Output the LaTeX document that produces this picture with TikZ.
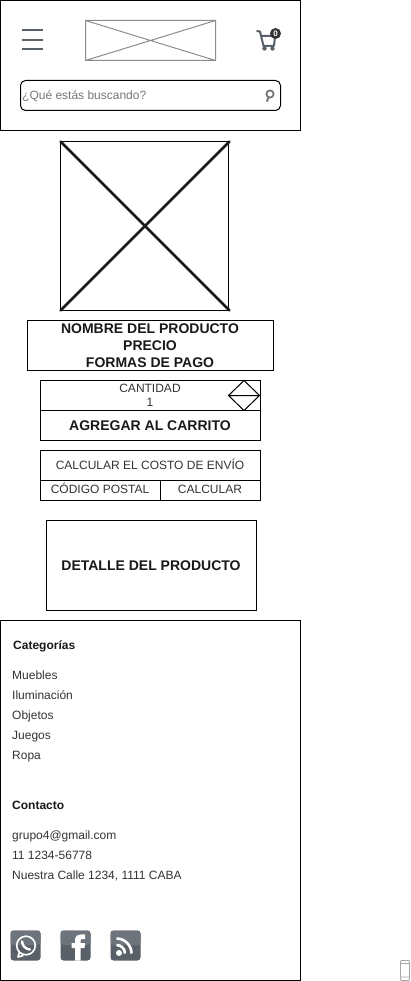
\documentclass[tikz,border=0pt]{standalone}
\usepackage{fontspec}
\setmainfont{Liberation Sans}
\definecolor{txt}{HTML}{333333}
\definecolor{icon}{HTML}{5A6068}
\definecolor{iconlt}{HTML}{6E747B}
\definecolor{hint}{HTML}{777777}
\begin{document}
\begin{tikzpicture}[x=1pt,y=-1pt,
  frame/.style={draw=black,line width=1pt,fill=white},
  lab/.style={font=\fontsize{12}{20}\selectfont,text=txt,inner sep=0pt,anchor=west,text height=9.6pt,text depth=1.6pt},
  labc/.style={font=\fontsize{12}{14}\selectfont,text=txt,inner sep=0pt,align=center},
  labl/.style={labc,text height=8.6pt,text depth=2.6pt},
  boldc/.style={font=\fontsize{14}{17}\selectfont\bfseries,text=black!90,inner sep=0pt,align=center},
  head/.style={font=\fontsize{12}{14}\selectfont\bfseries,text=black!90,inner sep=0pt,anchor=west,text height=9.6pt,text depth=1.6pt},
  social/.style={fill=icon,rounded corners=3pt}]
\useasboundingbox (0,0) rectangle (411,981);
% header
\draw[frame] (0.5,0.5) rectangle (300.5,130.5);
\draw[icon,line width=2pt] (22,30) -- (43,30) (22,40) -- (43,40) (22,49.5) -- (43,49.5);
\draw[draw=black!45,line width=1pt] (85.5,20.5) rectangle (215.5,60.5) (85.5,20.5) -- (215.5,60.5) (85.5,60.5) -- (215.5,20.5);
% cart
\draw[icon,line width=2pt,line join=round] (256.5,31) -- (260,31.5) -- (263.5,46) -- (274,46);
\draw[icon,line width=2pt,line join=round] (261,36) -- (275,36) -- (274,46);
\fill[icon] (264.5,48.5) circle (2.2) (272.5,48.5) circle (2.2);
\fill[black!80] (275.5,33.5) circle (5.5);
\node[font=\fontsize{8}{8}\selectfont\bfseries,text=white,inner sep=0pt] (cartn) at (275.5,33.5) {0};
% search
\draw[draw=black,line width=1pt,rounded corners=5pt] (20.5,80.5) rectangle (280.5,110.5);
\node[lab,text=hint] (search) at (22,95.5) {¿Qué estás buscando?};
\draw[hint,line width=1.8pt] (270,94) circle (3.6);
\draw[hint,line width=2pt] (268.3,97.8) -- (266.8,101.5);
% image
\draw[draw=black,line width=1pt] (60.5,141.5) rectangle (228.5,310.5);
\draw[draw=black!90,line width=2.6pt,line cap=round] (60.5,141.5) -- (229.5,310.5) (60.5,310.5) -- (229.5,141.5);
% title box
\node[frame,minimum width=246pt,minimum height=50pt,inner sep=0pt] (titlebox) at (150.5,345.5) {};
\node[boldc] (title) at (150,345.8) {NOMBRE DEL PRODUCTO\\PRECIO\\FORMAS DE PAGO};
% quantity
\node[frame,minimum width=220pt,minimum height=30pt,inner sep=0pt] (qty) at (150.5,395.5) {};
\node[labc] (qtyt) at (150,395.5) {CANTIDAD\\1};
\draw[draw=black,line width=1pt] (228.5,395.5) -- (244,380.5) -- (259.5,395.5) -- (244,410.5) -- cycle (228.5,395.5) -- (259.5,395.5);
\node[frame,minimum width=220pt,minimum height=30pt,inner sep=0pt] (add) at (150.5,425.5) {};
\node[boldc] (addt) at (150,425.5) {AGREGAR AL CARRITO};
% shipping
\node[frame,minimum width=220pt,minimum height=30pt,inner sep=0pt] (ship) at (150.5,465.5) {};
\node[labl] (shipt) at (150,466) {CALCULAR EL COSTO DE ENVÍO};
\node[frame,minimum width=120pt,minimum height=20pt,inner sep=0pt] (cp) at (100.5,490.5) {};
\node[labl] (cpt) at (100,490.5) {CÓDIGO POSTAL};
\node[frame,minimum width=100pt,minimum height=20pt,inner sep=0pt] (calc) at (210.5,490.5) {};
\node[labl] (calct) at (210,490.5) {CALCULAR};
% detail
\node[frame,minimum width=210pt,minimum height=90pt,inner sep=0pt] (detail) at (151.5,565.5) {};
\node[boldc] (detailt) at (151,565.5) {DETALLE DEL PRODUCTO};
% footer
\draw[frame] (0.5,620.5) rectangle (300.5,980.5);
\node[head] (cat) at (13,645) {Categorías};
\node[lab] (l1) at (12,675) {Muebles};
\node[lab] (l2) at (12,695) {Iluminación};
\node[lab] (l3) at (12,715) {Objetos};
\node[lab] (l4) at (12,735) {Juegos};
\node[lab] (l5) at (12,755) {Ropa};
\node[head] (con) at (12,805) {Contacto};
\node[lab] (c1) at (12,835) {grupo4@gmail.com};
\node[lab] (c2) at (12,855) {11 1234-56778};
\node[lab] (c3) at (12,875) {Nuestra Calle 1234, 1111 CABA};
% social icons
\fill[social] (10.5,930.5) rectangle (40.5,960.5);
\fill[iconlt,rounded corners=3pt] (10.5,930.5) rectangle (40.5,945);
\draw[white,line width=1.6pt] (26,945.5) circle (9.3);
\draw[white,line width=1.6pt,line join=round] (19.5,952) -- (18,957) -- (23.5,955.5);
\draw[white,line width=2.4pt,line cap=round] (22,941.5) .. controls (22.5,946) and (25.5,949) .. (30,949.5);
\fill[social] (60.5,930.5) rectangle (90.5,960.5);
\fill[iconlt,rounded corners=3pt] (60.5,930.5) rectangle (90.5,945);
\fill[white] (75,960.5) -- (75,948) -- (71.5,948) -- (71.5,943) -- (75,943) -- (75,940) .. controls (75,935.5) and (78,934) .. (85,934.5) -- (85,939) -- (82.5,939) .. controls (81,939) and (80.5,939.5) .. (80.5,941) -- (80.5,943) -- (85,943) -- (84.5,948) -- (80.5,948) -- (80.5,960.5) -- cycle;
\fill[social] (110.5,930.5) rectangle (140.5,960.5);
\fill[iconlt,rounded corners=3pt] (110.5,930.5) rectangle (140.5,945);
\fill[white] (119,953) circle (3);
\draw[white,line width=2.6pt] (116.5,945) arc (-90:0:8.5 and 8.5);
\draw[white,line width=2.6pt] (116.5,938.5) arc (-90:0:15 and 15);
% phone icon
\draw[draw=black!35,line width=0.8pt,rounded corners=1pt] (400.5,960.5) rectangle (409.5,980.5) (400.5,963.5) -- (409.5,963.5) (400.5,977) -- (409.5,977);
\end{tikzpicture}
\end{document}
